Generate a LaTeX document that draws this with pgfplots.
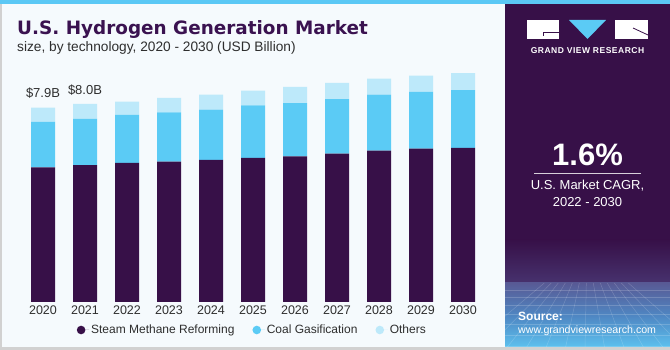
\documentclass[border=0pt]{standalone}
\usepackage{pgfplots}
\pgfplotsset{compat=1.18}
\usepackage{pgfplotstable}
\usepackage{fontspec}
\setmainfont{Liberation Sans}
\newfontfamily\titlefont{DejaVu Sans}
\definecolor{smr}{HTML}{371048}
\definecolor{coal}{HTML}{5BCBF5}
\definecolor{oth}{HTML}{BDE9FA}
\definecolor{panel}{HTML}{371048}
\definecolor{bg}{HTML}{F5FAFD}
\definecolor{txt}{HTML}{2E2E2E}
\definecolor{ttl}{HTML}{3A1250}
\definecolor{strip}{HTML}{5BC8F5}
\definecolor{gridtop}{HTML}{585A95}
\definecolor{gridmid}{HTML}{4F88C4}
\definecolor{gridbot}{HTML}{5EC6F2}
\definecolor{fadepurple}{HTML}{47326E}
\pgfplotstableread{
x smr coal oth
0 5.46 1.85 0.58
1 5.55 1.88 0.61
2 5.64 1.95 0.54
3 5.69 2.00 0.59
4 5.77 2.03 0.61
5 5.85 2.13 0.59
6 5.91 2.16 0.66
7 6.02 2.21 0.66
8 6.14 2.27 0.65
9 6.22 2.30 0.66
10 6.25 2.35 0.68
}\data
\begin{document}
\begin{tikzpicture}
\fill[bg] (0pt,0pt) rectangle (506pt,350pt);
\fill[black!18] (0pt,0pt) rectangle (2pt,350pt);
\fill[panel] (505pt,0pt) rectangle (670pt,350pt);
\shade[top color=panel, bottom color=fadepurple] (505pt,67pt) rectangle (670pt,110pt);
\shade[top color=gridtop, bottom color=gridbot, middle color=gridmid] (505pt,0pt) rectangle (670pt,67pt);
\begin{scope}[white, opacity=0.18, line width=0.5pt]
\foreach \yy in {60,53,45,36,26,15,4} {\draw (505pt,\yy pt) -- (670pt,\yy pt);}
\foreach \xx in {-40,-20,0,20,40,60,80,100,120,140,160,180,200} {\draw (587pt+0.35*\xx pt-0.35*82pt,67pt) -- (505pt+\xx pt,0pt);}
\end{scope}
\fill[black!18] (0pt,0pt) rectangle (670pt,2.5pt);
\fill[strip] (0pt,346pt) rectangle (670pt,350pt);
% title
\node[anchor=base west, inner sep=0, text=ttl, font=\titlefont\fontsize{18.4}{22}\selectfont\bfseries] at (17pt,315pt) {U.S. Hydrogen Generation Market};
\node[anchor=base west, inner sep=0, text=txt, font=\fontsize{13.7}{15}\selectfont] at (17pt,298.5pt) {size, by technology, 2020 - 2030 (USD Billion)};
% logo
\fill[white] (527pt,311pt) rectangle (559pt,330pt);
\draw[panel, line width=0.8pt] (559pt,318pt) -- (543pt,318pt) -- (543pt,314pt);
\fill[coal] (569pt,330pt) -- (606pt,330pt) -- (587.5pt,311pt) -- cycle;
\fill[white] (615pt,311pt) rectangle (648pt,330pt);
\draw[panel, line width=0.8pt] (633pt,322pt) -- (648pt,315pt);
\node[text=white, inner sep=0, font=\fontsize{8.5}{10}\selectfont\bfseries\addfontfeatures{LetterSpace=6}] at (587.5pt,299pt) {GRAND VIEW RESEARCH};
% CAGR
\node[anchor=base, text=white, inner sep=0, font=\fontsize{31}{34}\selectfont\bfseries] at (587.5pt,184pt) {1.6\%};
\draw[white!80!panel, line width=0.8pt] (534pt,176.3pt) -- (641pt,176.3pt);
\node[text=white, inner sep=0, font=\fontsize{13}{15}\selectfont] at (587.5pt,164pt) {U.S. Market CAGR,};
\node[text=white, inner sep=0, font=\fontsize{13}{15}\selectfont] at (587.5pt,148pt) {2022 - 2030};
\node[anchor=west, text=white, inner sep=0, font=\fontsize{12}{14}\selectfont\bfseries] at (518pt,34pt) {Source:};
\node[anchor=west, text=white, inner sep=0, font=\fontsize{10.6}{13}\selectfont] at (518pt,19.5pt) {www.grandviewresearch.com};
\begin{axis}[
  at={(43pt,48pt)}, anchor=origin, scale only axis,
  width=462pt, height=246.5pt,
  xmin=-0.5, xmax=10.5, ymin=0, ymax=10,
  ybar stacked, bar width=24pt,
  axis line style={draw=none},
  ytick=\empty,
  xtick={0,...,10},
  xticklabels={2020,2021,2022,2023,2024,2025,2026,2027,2028,2029,2030},
  major tick length=0pt,
  tick label style={font=\fontsize{12.5}{14}\selectfont, text=txt},
  clip=false,
  legend columns=3,
  legend style={at={(0.4985,-0.1136)}, anchor=center, draw=none, fill=none,
    font=\fontsize{12}{14}\selectfont, text=txt,
    /tikz/every even column/.append style={column sep=16pt}},
  legend image code/.code={\fill[#1] (0pt,0pt) circle (4.3pt); \path (-4.3pt,0pt) -- (8pt,0pt);},
]
\addplot[fill=smr, draw=none] table[x=x,y=smr]{\data};
\addlegendentry{Steam Methane Reforming}
\addplot[fill=coal, draw=none] table[x=x,y=coal]{\data};
\addlegendentry{Coal Gasification}
\addplot[fill=oth, draw=none] table[x=x,y=oth]{\data};
\addlegendentry{Others}
\node[anchor=center, text=txt, font=\fontsize{13}{15}\selectfont] at (axis cs:0,7.9) [yshift=14pt] {\$7.9B};
\node[anchor=center, text=txt, font=\fontsize{13}{15}\selectfont] at (axis cs:1,8.04) [yshift=14pt] {\$8.0B};
\end{axis}
\pgfresetboundingbox
\path[use as bounding box] (0pt,0pt) rectangle (670pt,350pt);
\end{tikzpicture}
\end{document}
